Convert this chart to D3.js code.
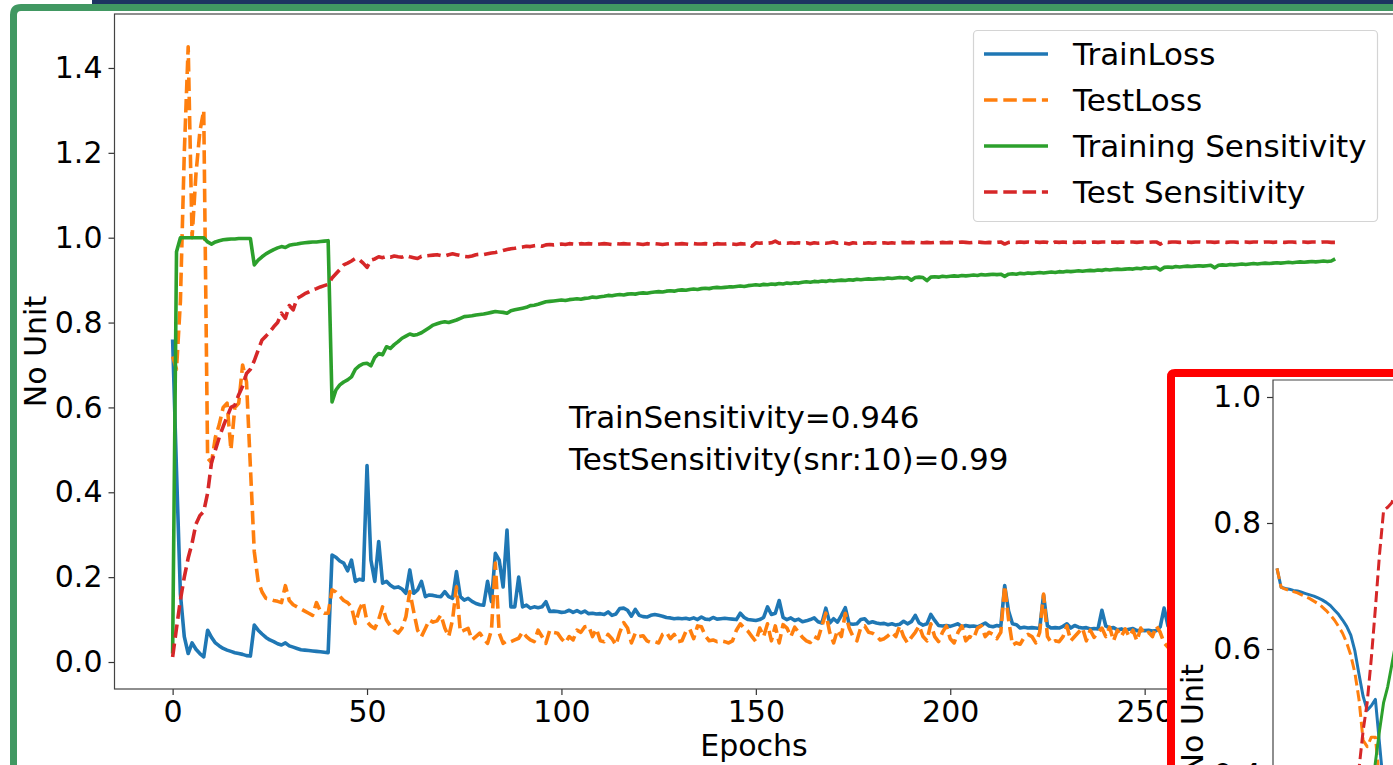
<!DOCTYPE html>
<html>
<head>
<meta charset="utf-8">
<script src="https://cdn.jsdelivr.net/npm/d3@7"></script>
<style>
    body { margin: 0; background: #fff; }
    svg text { font-family: 'DejaVu Sans', sans-serif; fill: #000; }
</style>
</head>
<body>
<svg id="chart" width="1393" height="765"></svg>
<script>
// ---- data ----
const epochs = d3.range(300);
const train_loss = [
    0.76,0.45,0.16,0.06,0.02,0.045,0.03,0.02,0.012,0.075,
    0.058,0.045,0.038,0.032,0.028,0.025,0.022,0.02,0.018,0.015,
    0.014,0.087,0.075,0.066,0.058,0.052,0.048,0.043,0.04,0.045,
    0.038,0.035,0.032,0.029,0.028,0.027,0.026,0.025,0.024,0.023,
    0.022,0.252,0.247,0.238,0.233,0.215,0.24,0.19,0.195,0.193,
    0.463,0.24,0.19,0.284,0.186,0.19,0.181,0.175,0.177,0.172,
    0.162,0.217,0.162,0.17,0.19,0.154,0.158,0.157,0.155,0.154,
    0.166,0.154,0.15,0.213,0.154,0.146,0.15,0.143,0.138,0.135,
    0.134,0.19,0.142,0.256,0.24,0.177,0.311,0.13,0.13,0.2,
    0.13,0.134,0.127,0.13,0.128,0.13,0.142,0.119,0.12,0.119,
    0.117,0.118,0.122,0.117,0.121,0.116,0.12,0.114,0.115,0.113,
    0.114,0.112,0.118,0.11,0.113,0.126,0.127,0.122,0.108,0.124,
    0.11,0.107,0.106,0.11,0.112,0.11,0.108,0.105,0.104,0.102,
    0.103,0.102,0.103,0.101,0.104,0.1,0.106,0.101,0.1,0.105,
    0.101,0.102,0.103,0.102,0.101,0.1,0.115,0.105,0.1,0.099,
    0.098,0.1,0.105,0.13,0.112,0.115,0.145,0.105,0.1,0.104,
    0.098,0.101,0.095,0.097,0.1,0.104,0.095,0.092,0.127,0.092,
    0.102,0.094,0.11,0.128,0.09,0.089,0.09,0.1,0.102,0.092,
    0.095,0.092,0.09,0.091,0.088,0.09,0.087,0.089,0.096,0.09,
    0.095,0.11,0.092,0.087,0.09,0.112,0.098,0.086,0.085,0.086,
    0.084,0.087,0.09,0.083,0.086,0.084,0.085,0.083,0.087,0.092,
    0.085,0.083,0.086,0.084,0.18,0.12,0.09,0.088,0.08,0.082,
    0.08,0.081,0.08,0.079,0.158,0.085,0.08,0.081,0.08,0.084,
    0.09,0.08,0.086,0.082,0.08,0.081,0.078,0.079,0.078,0.122,
    0.085,0.08,0.081,0.076,0.078,0.075,0.077,0.079,0.074,0.075,
    0.074,0.075,0.073,0.074,0.083,0.127,0.085,0.074,0.073,0.075,
    0.072,0.074,0.071,0.073,0.072,0.07,0.074,0.071,0.072,0.07,
    0.071,0.069,0.072,0.07,0.071,0.069,0.07,0.068,0.07,0.069,
    0.068,0.07,0.067,0.069,0.068,0.066,0.068,0.067,0.066,0.068,
    0.065,0.067,0.066,0.065,0.067,0.064,0.066,0.065,0.064,0.065
];
const test_loss = [
    0.72,0.69,0.85,1.2,1.45,1.0,1.15,1.25,1.3,0.48,
    0.47,0.53,0.56,0.6,0.61,0.5,0.6,0.61,0.7,0.66,
    0.46,0.26,0.19,0.165,0.15,0.148,0.145,0.143,0.14,0.18,
    0.145,0.135,0.13,0.125,0.12,0.115,0.11,0.14,0.12,0.115,
    0.115,0.17,0.165,0.155,0.145,0.14,0.13,0.091,0.123,0.142,
    0.095,0.085,0.079,0.1,0.13,0.099,0.085,0.075,0.068,0.08,
    0.107,0.166,0.119,0.075,0.06,0.079,0.099,0.094,0.097,0.111,
    0.08,0.06,0.1,0.177,0.071,0.075,0.079,0.052,0.06,0.068,
    0.055,0.044,0.075,0.233,0.068,0.044,0.05,0.048,0.052,0.056,
    0.071,0.06,0.052,0.048,0.075,0.06,0.044,0.075,0.07,0.068,
    0.055,0.045,0.06,0.052,0.075,0.07,0.083,0.085,0.06,0.078,
    0.05,0.048,0.065,0.055,0.04,0.07,0.093,0.08,0.045,0.068,
    0.06,0.062,0.05,0.046,0.048,0.045,0.065,0.07,0.055,0.065,
    0.048,0.05,0.072,0.078,0.055,0.085,0.083,0.062,0.05,0.052,
    0.048,0.05,0.048,0.045,0.05,0.075,0.09,0.08,0.072,0.06,
    0.048,0.08,0.06,0.09,0.05,0.085,0.045,0.088,0.08,0.06,
    0.082,0.07,0.058,0.05,0.046,0.06,0.055,0.085,0.115,0.07,
    0.045,0.075,0.06,0.115,0.08,0.06,0.05,0.082,0.085,0.07,
    0.068,0.062,0.052,0.055,0.062,0.07,0.06,0.085,0.06,0.045,
    0.058,0.07,0.085,0.06,0.05,0.09,0.06,0.048,0.07,0.085,
    0.055,0.045,0.07,0.085,0.05,0.06,0.055,0.08,0.085,0.06,
    0.07,0.065,0.055,0.07,0.18,0.1,0.04,0.045,0.042,0.058,
    0.065,0.06,0.045,0.07,0.16,0.06,0.045,0.05,0.048,0.06,
    0.085,0.05,0.06,0.07,0.08,0.05,0.075,0.058,0.07,0.08,
    0.06,0.082,0.05,0.075,0.06,0.078,0.06,0.075,0.05,0.08,
    0.065,0.07,0.06,0.085,0.07,0.045,0.035,0.05,0.062,0.055,
    0.07,0.048,0.06,0.052,0.065,0.05,0.058,0.068,0.047,0.06,
    0.055,0.066,0.048,0.06,0.052,0.064,0.05,0.058,0.062,0.049,
    0.057,0.063,0.05,0.06,0.055,0.047,0.062,0.053,0.058,0.05,
    0.06,0.054,0.048,0.058,0.052,0.062,0.05,0.056,0.053,0.05
];
const train_sens = [
    0.02,0.967,1.0,1.0,1.0,1.0,1.0,1.0,1.0,0.99,
    0.985,0.99,0.993,0.995,0.996,0.997,0.997,0.998,0.998,0.998,
    0.998,0.936,0.947,0.955,0.962,0.967,0.972,0.976,0.979,0.977,
    0.982,0.984,0.985,0.987,0.988,0.989,0.99,0.99,0.991,0.992,
    0.993,0.613,0.641,0.653,0.66,0.665,0.672,0.69,0.698,0.703,
    0.704,0.698,0.718,0.727,0.724,0.743,0.739,0.748,0.755,0.763,
    0.768,0.773,0.77,0.772,0.776,0.782,0.788,0.794,0.797,0.8,
    0.802,0.8,0.803,0.806,0.81,0.814,0.815,0.816,0.818,0.819,
    0.82,0.822,0.824,0.826,0.825,0.824,0.822,0.828,0.83,0.832,
    0.834,0.836,0.84,0.841,0.843,0.846,0.849,0.85,0.851,0.852,
    0.853,0.852,0.854,0.855,0.856,0.855,0.857,0.858,0.86,0.859,
    0.861,0.862,0.864,0.863,0.865,0.866,0.865,0.867,0.868,0.867,
    0.869,0.87,0.869,0.871,0.872,0.873,0.872,0.874,0.875,0.874,
    0.876,0.877,0.876,0.878,0.879,0.878,0.88,0.881,0.88,0.882,
    0.883,0.882,0.883,0.884,0.884,0.885,0.886,0.885,0.887,0.888,
    0.889,0.888,0.89,0.889,0.891,0.89,0.892,0.891,0.893,0.892,
    0.894,0.893,0.895,0.896,0.895,0.897,0.896,0.898,0.897,0.899,
    0.898,0.899,0.9,0.899,0.901,0.9,0.902,0.901,0.902,0.903,
    0.902,0.903,0.904,0.903,0.905,0.904,0.905,0.906,0.905,0.906,
    0.9,0.906,0.907,0.906,0.899,0.907,0.908,0.907,0.909,0.908,
    0.909,0.91,0.909,0.911,0.91,0.911,0.912,0.911,0.913,0.912,
    0.913,0.914,0.913,0.914,0.909,0.914,0.915,0.914,0.916,0.915,
    0.917,0.916,0.917,0.918,0.917,0.918,0.919,0.918,0.92,0.919,
    0.921,0.92,0.921,0.922,0.921,0.922,0.923,0.922,0.924,0.923,
    0.925,0.924,0.925,0.926,0.925,0.926,0.927,0.926,0.928,0.927,
    0.929,0.928,0.929,0.93,0.924,0.93,0.931,0.93,0.932,0.931,
    0.932,0.933,0.932,0.933,0.934,0.933,0.934,0.935,0.929,0.935,
    0.936,0.935,0.937,0.936,0.937,0.938,0.937,0.938,0.939,0.938,
    0.939,0.94,0.939,0.94,0.941,0.94,0.941,0.942,0.941,0.942,
    0.943,0.942,0.943,0.944,0.943,0.944,0.945,0.944,0.945,0.95
];
const test_sens = [
    0.012,0.08,0.146,0.2,0.245,0.28,0.325,0.345,0.355,0.398,
    0.47,0.5,0.53,0.555,0.578,0.6,0.605,0.63,0.65,0.68,
    0.69,0.71,0.735,0.759,0.768,0.778,0.79,0.8,0.822,0.81,
    0.84,0.83,0.857,0.862,0.868,0.872,0.877,0.88,0.884,0.887,
    0.89,0.905,0.915,0.925,0.936,0.94,0.945,0.951,0.948,0.94,
    0.93,0.947,0.95,0.955,0.953,0.956,0.954,0.957,0.955,0.954,
    0.958,0.955,0.953,0.951,0.956,0.957,0.958,0.959,0.96,0.958,
    0.957,0.96,0.962,0.96,0.958,0.956,0.955,0.957,0.96,0.961,
    0.96,0.962,0.964,0.965,0.967,0.97,0.972,0.974,0.975,0.977,
    0.978,0.98,0.979,0.981,0.982,0.98,0.983,0.984,0.983,0.984,
    0.985,0.984,0.986,0.985,0.984,0.986,0.985,0.986,0.985,0.984,
    0.985,0.986,0.985,0.984,0.986,0.985,0.986,0.985,0.985,0.986,
    0.985,0.984,0.986,0.985,0.986,0.985,0.984,0.985,0.986,0.985,
    0.985,0.986,0.985,0.984,0.986,0.985,0.985,0.986,0.985,0.984,
    0.986,0.985,0.985,0.986,0.985,0.984,0.986,0.985,0.986,0.98,
    0.988,0.987,0.988,0.987,0.988,0.992,0.987,0.988,0.987,0.988,
    0.987,0.988,0.987,0.988,0.986,0.988,0.987,0.988,0.987,0.988,
    0.99,0.987,0.988,0.987,0.985,0.988,0.987,0.988,0.987,0.988,
    0.987,0.988,0.987,0.988,0.987,0.988,0.987,0.988,0.989,0.988,
    0.989,0.988,0.989,0.988,0.989,0.988,0.989,0.988,0.989,0.988,
    0.989,0.988,0.989,0.99,0.989,0.988,0.989,0.99,0.989,0.988,
    0.989,0.988,0.989,0.99,0.985,0.989,0.99,0.989,0.99,0.989,
    0.99,0.989,0.99,0.989,0.99,0.989,0.986,0.99,0.989,0.99,
    0.989,0.99,0.989,0.99,0.989,0.99,0.989,0.99,0.989,0.99,
    0.99,0.989,0.99,0.989,0.99,0.989,0.99,0.99,0.989,0.99,
    0.99,0.989,0.99,0.99,0.985,0.99,0.989,0.99,0.99,0.989,
    0.99,0.99,0.989,0.99,0.99,0.989,0.99,0.99,0.989,0.99,
    0.99,0.989,0.99,0.99,0.989,0.99,0.99,0.989,0.99,0.99,
    0.989,0.99,0.99,0.989,0.99,0.99,0.989,0.99,0.99,0.989,
    0.99,0.99,0.989,0.99,0.99,0.989,0.99,0.99,0.989,0.989
];
const x_ticks = [0, 50, 100, 150, 200, 250, 300];
const y_ticks = [0, 0.2, 0.4, 0.6, 0.8, 1.0, 1.2, 1.4];
const legend_names = ['TrainLoss', 'TestLoss', 'Training Sensitivity', 'Test Sensitivity'];
const note_lines = ['TrainSensitivity=0.946', 'TestSensitivity(snr:10)=0.99'];

// inset (second plot, only its corner is visible)
const inset_loss_train = [0.728,0.698,0.696,0.695,0.693,0.692,0.69,0.688,0.686,0.684,
    0.681,0.678,0.674,0.669,0.662,0.655,0.646,0.636,0.622,0.597,
    0.56,0.525,0.503,0.51,0.52,0.45,0.38,0.33,0.29,0.26];
const inset_loss_test = [0.728,0.698,0.695,0.693,0.691,0.689,0.686,0.683,0.68,0.676,
    0.672,0.667,0.661,0.654,0.646,0.636,0.625,0.61,0.59,0.562,
    0.52,0.455,0.445,0.46,0.46,0.39,0.33,0.29,0.26,0.24];
const inset_test_sens = [[19,0.3],[20,0.41],[21,0.47],[22,0.515],[23,0.585],[24,0.665],
    [25,0.75],[26,0.82],[27,0.825],[28,0.832],[29,0.85]];
const inset_train_sens = [[22,0.3],[23,0.36],[24,0.42],[25,0.47],[26,0.515],[27,0.54],
    [28,0.575],[29,0.61]];
const inset_y_ticks = [0.4, 0.6, 0.8, 1.0];

const colors = {
    'TrainLoss': '#1f77b4',
    'TestLoss': '#ff7f0e',
    'Training Sensitivity': '#2ca02c',
    'Test Sensitivity': '#d62728'
};
const dashed = {'TrainLoss': false, 'TestLoss': true, 'Training Sensitivity': false, 'Test Sensitivity': true};

// ---- main plot ----
const svg = d3.select('svg#chart');
const m_left = 114.5, m_right = 1393.3, m_top = 14, m_bottom = 689;

let x = d3.scaleLinear().domain([-14.95, 313.95]).range([m_left, m_right]);
let y = d3.scaleLinear().domain([-0.0636, 1.5272]).range([m_bottom, m_top]);

let defs = svg.append('defs');
defs.append('clipPath').attr('id', 'main_clip')
    .append('rect').attr('x', m_left).attr('y', m_top)
    .attr('width', m_right - m_left).attr('height', m_bottom - m_top);

let main = svg.append('g').attr('id', 'main');

let series = [
    {name: 'TrainLoss', values: train_loss},
    {name: 'TestLoss', values: test_loss},
    {name: 'Training Sensitivity', values: train_sens},
    {name: 'Test Sensitivity', values: test_sens}
];
let line = d3.line().x((d, i) => x(epochs[i])).y(d => y(d));

main.append('g').attr('clip-path', 'url(#main_clip)')
    .selectAll('path')
    .data(series)
    .enter()
    .append('path')
    .attr('d', d => line(d.values))
    .style('fill', 'none')
    .style('stroke', d => colors[d.name])
    .style('stroke-width', 3.6)
    .style('stroke-linejoin', 'round')
    .style('stroke-dasharray', d => dashed[d.name] ? '13.5,5.8' : null);

// axes
let xAxis = main.append('g')
    .attr('transform', 'translate(0,' + m_bottom + ')')
    .call(d3.axisBottom(x).tickValues(x_ticks).tickSize(6).tickPadding(6).tickSizeOuter(0));
let yAxis = main.append('g')
    .attr('transform', 'translate(' + m_left + ',0)')
    .call(d3.axisLeft(y).tickValues(y_ticks).tickFormat(d3.format('.1f')).tickSize(6).tickPadding(6).tickSizeOuter(0));
[xAxis, yAxis].forEach(a => {
    a.select('.domain').remove();
    a.selectAll('line').style('stroke', '#333').style('stroke-width', 1.2);
    a.selectAll('text').style('font-size', '30px').style('font-family', 'DejaVu Sans');
});

main.append('rect')
    .attr('x', m_left).attr('y', m_top)
    .attr('width', m_right - m_left + 10).attr('height', m_bottom - m_top)
    .style('fill', 'none').style('stroke', '#444').style('stroke-width', 1.2);

main.append('text')
    .attr('x', 754).attr('y', 756)
    .attr('text-anchor', 'middle')
    .style('font-size', '30px')
    .text('Epochs');
main.append('text')
    .attr('transform', 'translate(46,' + (m_top + m_bottom) / 2 + ') rotate(-90)')
    .attr('text-anchor', 'middle')
    .style('font-size', '30px')
    .text('No Unit');

main.selectAll('text.note')
    .data(note_lines)
    .enter()
    .append('text')
    .attr('class', 'note')
    .attr('x', 569)
    .attr('y', (d, i) => 428 + i * 42)
    .style('font-size', '31px')
    .text(d => d);

// legend
let legend = main.append('g').attr('id', 'legend');
legend.append('rect')
    .attr('x', 973.5).attr('y', 30.5).attr('width', 404).attr('height', 191).attr('rx', 4)
    .style('fill', 'white').style('fill-opacity', 0.8)
    .style('stroke', '#d4d4d4').style('stroke-width', 1.2);
let items = legend.selectAll('g.item')
    .data(legend_names)
    .enter()
    .append('g')
    .attr('class', 'item')
    .attr('transform', (d, i) => 'translate(0,' + (54 + i * 46) + ')');
items.append('line')
    .attr('x1', 984).attr('x2', 1048)
    .style('stroke', d => colors[d])
    .style('stroke-width', 3.6)
    .style('stroke-dasharray', d => dashed[d] ? '13.5,5.8' : null);
items.append('text')
    .attr('x', 1073).attr('y', 11)
    .style('font-size', '31px')
    .text(d => d);

// ---- inset plot in red frame ----
let inset = svg.append('g').attr('id', 'inset');
inset.append('rect')
    .attr('x', 1171).attr('y', 373).attr('width', 400).attr('height', 500)
    .style('fill', 'white');

const i_left = 1273, i_top = 380;
let ix = d3.scaleLinear().domain([0, 30]).range([1277, 1400]);
let iy = d3.scaleLinear().domain([0.4, 1.0]).range([775, 397]);

defs.append('clipPath').attr('id', 'inset_clip')
    .append('rect').attr('x', i_left).attr('y', i_top).attr('width', 200).attr('height', 400);

let iseries = [
    {name: 'TrainLoss', values: inset_loss_train.map((v, i) => [i, v])},
    {name: 'TestLoss', values: inset_loss_test.map((v, i) => [i, v])},
    {name: 'Training Sensitivity', values: inset_train_sens},
    {name: 'Test Sensitivity', values: inset_test_sens}
];
let iline = d3.line().x(d => ix(d[0])).y(d => iy(d[1]));
inset.append('g').attr('clip-path', 'url(#inset_clip)')
    .selectAll('path')
    .data(iseries)
    .enter()
    .append('path')
    .attr('d', d => iline(d.values))
    .style('fill', 'none')
    .style('stroke', d => colors[d.name])
    .style('stroke-width', 3)
    .style('stroke-linejoin', 'round')
    .style('stroke-dasharray', d => dashed[d.name] ? '11,4.8' : null);

let iAxis = inset.append('g')
    .attr('transform', 'translate(' + i_left + ',0)')
    .call(d3.axisLeft(iy).tickValues(inset_y_ticks).tickFormat(d3.format('.1f')).tickSize(6).tickPadding(6).tickSizeOuter(0));
iAxis.select('.domain').remove();
iAxis.selectAll('line').style('stroke', '#333').style('stroke-width', 1.2);
iAxis.selectAll('text').style('font-size', '30px').style('font-family', 'DejaVu Sans');

inset.append('path')
    .attr('d', 'M' + i_left + ',800V' + i_top + 'H1400')
    .style('fill', 'none').style('stroke', '#444').style('stroke-width', 1.2);
inset.append('text')
    .attr('transform', 'translate(1203,664) rotate(-90)')
    .attr('text-anchor', 'end')
    .style('font-size', '30px')
    .text('No Unit');

inset.append('path')
    .attr('d', 'M1171,800V377Q1171,373 1175,373H1400')
    .style('fill', 'none').style('stroke', '#ff0000').style('stroke-width', 8);

// ---- page decoration: outer frame and top bar ----
svg.append('rect')
    .attr('x', 92).attr('y', 0).attr('width', 1310).attr('height', 4.5)
    .style('fill', '#1d3461');
svg.append('path')
    .attr('d', 'M13.5,800V15Q13.5,7.5 21,7.5H1400')
    .style('fill', 'none').style('stroke', '#419862').style('stroke-width', 7);
</script>
</body>
</html>
